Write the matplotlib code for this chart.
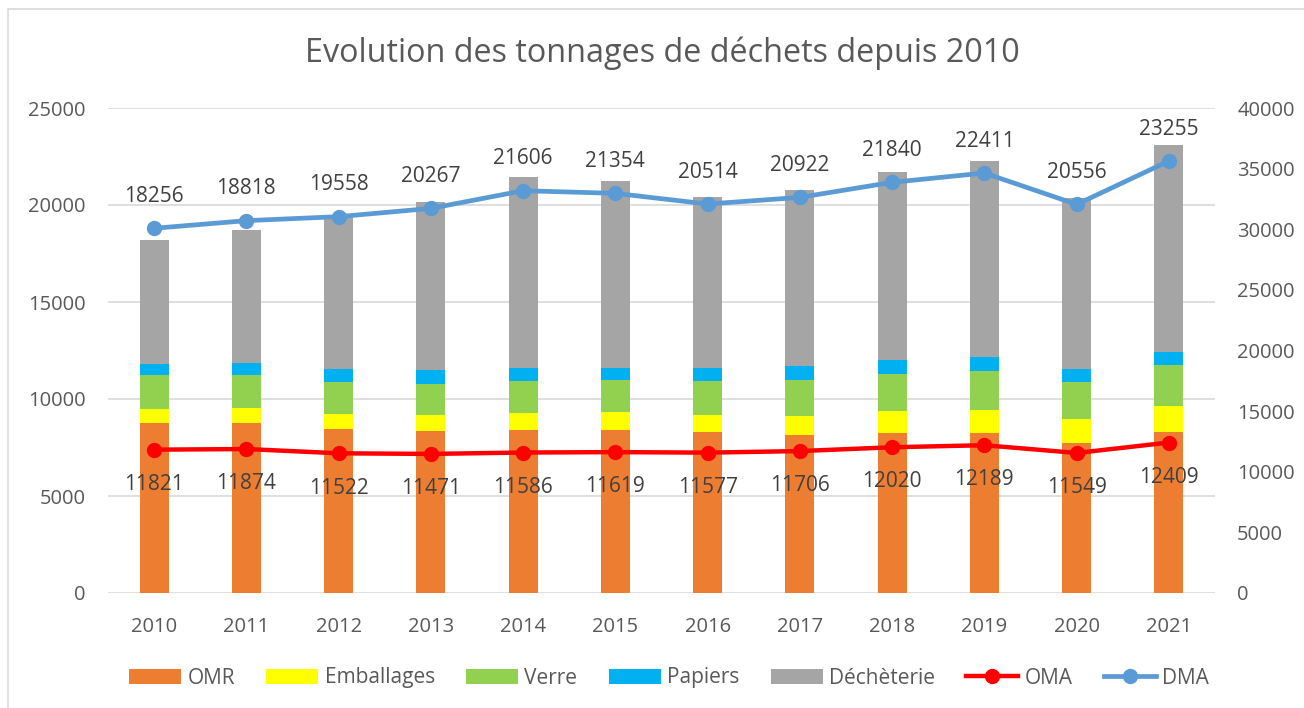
import numpy as np
import matplotlib
matplotlib.use("Agg")
import matplotlib.pyplot as plt
from matplotlib.patches import Rectangle

plt.rcParams['font.family'] = ['Open Sans', 'DejaVu Sans']

years = ["2010", "2011", "2012", "2013", "2014", "2015", "2016", "2017", "2018", "2019", "2020", "2021"]
omr = [8750, 8770, 8470, 8350, 8400, 8400, 8300, 8150, 8270, 8270, 7750, 8300]
emballages = [750, 770, 760, 810, 880, 910, 880, 980, 1110, 1180, 1220, 1360]
verre = [1720, 1700, 1650, 1630, 1660, 1690, 1770, 1870, 1910, 2010, 1920, 2100]
papiers = [601, 634, 642, 681, 646, 619, 627, 706, 730, 729, 659, 649]
decheterie = [6359, 6853, 7878, 8699, 9857, 9618, 8818, 9067, 9680, 10061, 8801, 10701]
oma = [11821, 11874, 11522, 11471, 11586, 11619, 11577, 11706, 12020, 12189, 11549, 12409]
dma_line = [30080, 30710, 31040, 31720, 33180, 32960, 32080, 32630, 33870, 34640, 32050, 35630]
dma_labels = [18256, 18818, 19558, 20267, 21606, 21354, 20514, 20922, 21840, 22411, 20556, 23255]

txt = "#595959"
grid = "#D9D9D9"

fig = plt.figure(figsize=(13.04, 7.08), dpi=100)
fig.patches.append(Rectangle((8 / 1304, -0.1), 1.2, 0.1 + 699 / 708, transform=fig.transFigure,
                             fill=False, edgecolor=grid, linewidth=1.2))

ax = fig.add_axes([108 / 1304, 1 - 593 / 708, (1215 - 108) / 1304, (593 - 108) / 708])
x = np.arange(len(years))
w = 0.315
bottom = np.zeros(len(years))
series = [("OMR", omr, "#ED7D31"), ("Emballages", emballages, "#FFFF00"),
          ("Verre", verre, "#92D050"), ("Papiers", papiers, "#00B0F0"),
          ("Déchèterie", decheterie, "#A5A5A5")]
handles = []
for name, vals, col in series:
    b = ax.bar(x, vals, w, bottom=bottom, color=col, label=name, zorder=2)
    handles.append(b)
    bottom += np.array(vals)

ax.set_ylim(0, 25000)
ax.set_yticks(range(0, 25001, 5000))
ax.set_xlim(-0.5, len(years) - 0.5)
ax.set_xticks(x)
ax.set_xticklabels(years)
ax.grid(axis="y", color=grid, linewidth=1.2, zorder=0)
ax.set_axisbelow(True)
for s in ax.spines.values():
    s.set_visible(False)
ax.tick_params(axis="both", length=0, labelsize=14.5, labelcolor=txt)
ax.tick_params(axis="y", pad=16)
ax.tick_params(axis="x", pad=17)

ax2 = ax.twinx()
ax2.set_ylim(0, 40000)
ax2.set_yticks(range(0, 40001, 5000))
for s in ax2.spines.values():
    s.set_visible(False)
ax2.tick_params(axis="y", length=0, labelsize=14.5, labelcolor=txt, pad=16)

l1, = ax2.plot(x, oma, color="#FF0000", lw=3.2, marker="o", ms=10, label="OMA", zorder=3)
l2, = ax2.plot(x, dma_line, color="#5B9BD5", lw=3.4, marker="o", ms=10, label="DMA", zorder=3)
handles += [l1, l2]

for i in range(len(years)):
    ax2.annotate(str(oma[i]), (x[i], oma[i]), xytext=(0, -25), textcoords="offset points",
                 ha="center", va="center", fontsize=15, color="#404040")
    ax2.annotate(str(dma_labels[i]), (x[i], dma_line[i]), xytext=(0, 23), textcoords="offset points",
                 ha="center", va="center", fontsize=15, color="#404040")

fig.text(662 / 1304, 1 - 53 / 708, "Evolution des tonnages de déchets depuis 2010",
         ha="center", va="center", fontsize=23.3, color=txt)

fig.legend(handles=handles, loc="center", bbox_to_anchor=(669 / 1304, 1 - 678 / 708), ncol=7,
           frameon=False, fontsize=15, labelcolor=txt, handlelength=2.5, handleheight=0.7,
           columnspacing=1.5, handletextpad=0.3)

fig.savefig("out.png", dpi=100)
